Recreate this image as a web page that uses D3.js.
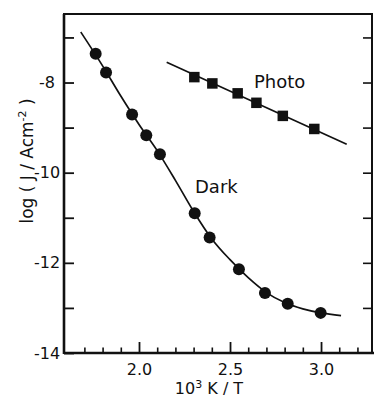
<!DOCTYPE html>
<html>
<head>
<meta charset="utf-8">
<script src="https://cdn.jsdelivr.net/npm/d3@7"></script>
<style>
  html, body { margin: 0; padding: 0; background: #fff; }
  svg { display: block; font-family: "DejaVu Sans", sans-serif; }
</style>
</head>
<body>
<svg id="chart" width="374" height="399"></svg>
<script>
// Dark current: measured points
const darkX = [1.762, 1.819, 1.962, 2.040, 2.115, 2.306, 2.388, 2.549, 2.692, 2.817, 2.998];
const darkY = [-7.36, -7.78, -8.71, -9.17, -9.59, -10.90, -11.44, -12.14, -12.67, -12.91, -13.11];

// Dark current: smooth fitted curve
const darkCurveX = [1.68, 1.80, 1.90, 2.00, 2.10, 2.20, 2.30, 2.40, 2.50, 2.60, 2.70, 2.80, 2.90, 3.00, 3.11];
const darkCurveY = [-6.88, -7.63, -8.30, -8.93, -9.51, -10.17, -10.86, -11.47, -11.93, -12.33, -12.66, -12.88, -13.02, -13.11, -13.17];

// Photocurrent: measured points and straight-line fit
const photoX = [2.304, 2.403, 2.542, 2.645, 2.790, 2.963];
const photoY = [-7.88, -8.02, -8.24, -8.45, -8.74, -9.03];
const photoFitX = [2.152, 3.141];
const photoFitY = [-7.55, -9.37];

// Axis ticks
const xMajorTicks = [2.0, 2.5, 3.0];
const xMinorTicks = [1.7, 1.8, 1.9, 2.1, 2.2, 2.3, 2.4, 2.6, 2.7, 2.8, 2.9, 3.1, 3.2];
const yTicks = [-7, -8, -9, -10, -11, -12, -13, -14];
const yLabelTicks = [-8, -10, -12, -14];

const svg = d3.select("#chart");
const ink = "#111";

const plotL = 64, plotR = 372, plotT = 14, plotB = 353;
const x = d3.scaleLinear().domain([1.588, 3.28]).range([plotL, plotR]);
const y = d3.scaleLinear().domain([-14, -6.48]).range([plotB, plotT]);

// Minor x ticks (inward)
svg.append("g")
  .attr("transform", `translate(0,${plotB})`)
  .call(d3.axisBottom(x).tickValues(xMinorTicks).tickSize(-5.5).tickSizeOuter(0).tickFormat(""))
  .call(g => g.select(".domain").remove())
  .call(g => g.selectAll("line").attr("stroke", ink).attr("stroke-width", 1.6));

// Major x ticks with labels
svg.append("g")
  .attr("transform", `translate(0,${plotB})`)
  .call(d3.axisBottom(x).tickValues(xMajorTicks).tickSize(-11).tickSizeOuter(0)
        .tickPadding(10.5).tickFormat(d3.format(".1f")))
  .call(g => g.select(".domain").remove())
  .call(g => g.selectAll("line").attr("stroke", ink).attr("stroke-width", 1.8))
  .call(g => g.selectAll("text").attr("fill", ink).style("font-size", "16px")
        .style("font-family", "DejaVu Sans, sans-serif"));

// Left y ticks, labels on even values
svg.append("g")
  .attr("transform", `translate(${plotL},0)`)
  .call(d3.axisLeft(y).tickValues(yTicks).tickSize(-10).tickSizeOuter(0)
        .tickFormat(d => yLabelTicks.includes(d) ? String(d) : ""))
  .call(g => g.select(".domain").remove())
  .call(g => g.selectAll("line").attr("stroke", ink).attr("stroke-width", 1.8))
  .call(g => g.selectAll("text").attr("fill", ink).attr("text-anchor", "middle")
        .attr("x", -17).style("font-size", "16px")
        .style("font-family", "DejaVu Sans, sans-serif"));

// Right y ticks (inward, unlabelled)
svg.append("g")
  .attr("transform", `translate(${plotR},0)`)
  .call(d3.axisRight(y).tickValues(yTicks.filter(d => d > -14)).tickSize(-9).tickSizeOuter(0).tickFormat(""))
  .call(g => g.select(".domain").remove())
  .call(g => g.selectAll("line").attr("stroke", ink).attr("stroke-width", 1.6));

// Frame
svg.append("rect")
  .attr("x", plotL).attr("y", plotT)
  .attr("width", plotR - plotL).attr("height", plotB - plotT)
  .attr("fill", "none").attr("stroke", ink).attr("stroke-width", 2);
svg.append("line")
  .attr("x1", plotL).attr("x2", 374).attr("y1", plotB).attr("y2", plotB)
  .attr("stroke", ink).attr("stroke-width", 2.6);
svg.append("line")
  .attr("x1", plotL).attr("x2", plotL).attr("y1", plotT).attr("y2", plotB + 1)
  .attr("stroke", ink).attr("stroke-width", 2.6);

// Dark curve
const curveLine = d3.line().x(d => x(d[0])).y(d => y(d[1])).curve(d3.curveMonotoneX);
svg.append("path")
  .datum(darkCurveX.map((v, i) => [v, darkCurveY[i]]))
  .attr("d", curveLine)
  .attr("fill", "none").attr("stroke", ink).attr("stroke-width", 1.7);

// Photo fit line
svg.append("path")
  .datum(photoFitX.map((v, i) => [v, photoFitY[i]]))
  .attr("d", d3.line().x(d => x(d[0])).y(d => y(d[1])))
  .attr("fill", "none").attr("stroke", ink).attr("stroke-width", 1.7);

// Dark markers
svg.append("g").selectAll("circle")
  .data(darkX.map((v, i) => [v, darkY[i]]))
  .join("circle")
  .attr("cx", d => x(d[0])).attr("cy", d => y(d[1])).attr("r", 6)
  .attr("fill", ink);

// Photo markers
const sq = 10.5;
svg.append("g").selectAll("rect")
  .data(photoX.map((v, i) => [v, photoY[i]]))
  .join("rect")
  .attr("x", d => x(d[0]) - sq / 2).attr("y", d => y(d[1]) - sq / 2)
  .attr("width", sq).attr("height", sq)
  .attr("fill", ink);

// Series labels
svg.append("text").attr("x", 254).attr("y", 88)
  .style("font-size", "18px").attr("fill", ink).text("Photo");
svg.append("text").attr("x", 195).attr("y", 193)
  .style("font-size", "18px").attr("fill", ink).text("Dark");

// Axis titles
const xt = svg.append("text").attr("x", 209).attr("y", 394)
  .attr("text-anchor", "middle").style("font-size", "16px").attr("fill", ink);
xt.append("tspan").text("10");
xt.append("tspan").attr("dy", -6).style("font-size", "11px").text("3");
xt.append("tspan").attr("dy", 6).text(" K / T");

const yt = svg.append("text")
  .attr("transform", "translate(33,161) rotate(-90)")
  .attr("text-anchor", "middle").style("font-size", "17px").attr("fill", ink);
yt.append("tspan").text("log ( J / Acm");
yt.append("tspan").attr("dy", -7).style("font-size", "11px").text("-2");
yt.append("tspan").attr("dy", 7).text(" )");
</script>
</body>
</html>
